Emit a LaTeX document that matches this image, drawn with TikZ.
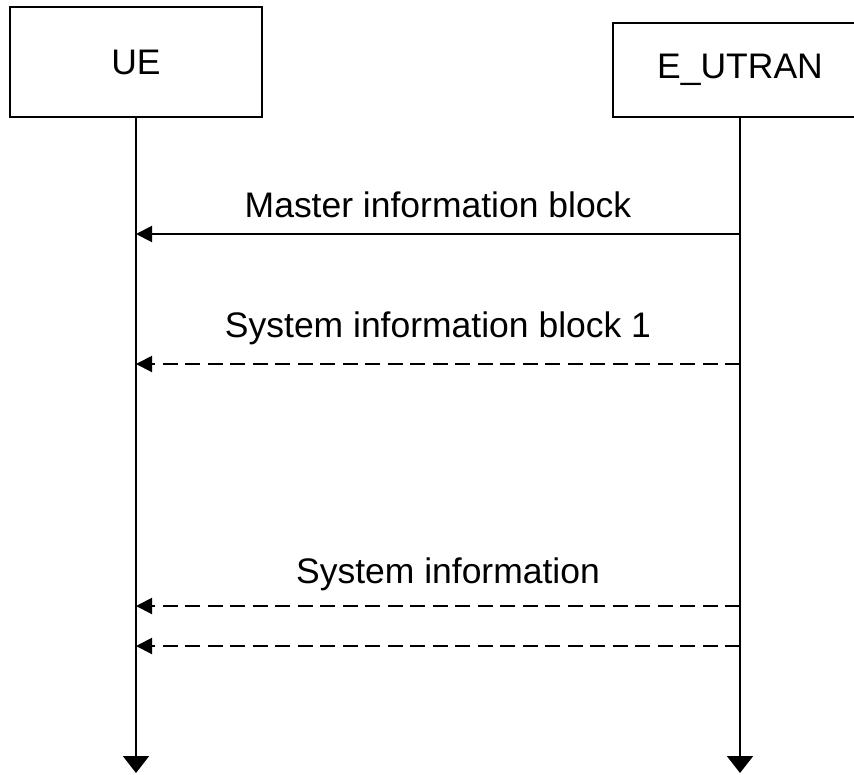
\documentclass[tikz,border=0pt]{standalone}
\usepackage{fontspec}
\setmainfont{Liberation Sans}
\usepackage{tikz}
\usetikzlibrary{
  arrows.meta,
  calc,
}
\tikzstyle{msg} = [
  -{Triangle[length=0.32cm, width=0.32cm]},
  line width=0.04cm,
]
\tikzstyle{lifeline} = [
  -{Triangle[length=0.34cm, width=0.52cm]},
  line width=0.04cm,
]

\begin{document}
\begin{tikzpicture}[x=0.02cm, y=-0.02cm,
                    box/.style={draw, line width=0.04cm, inner sep=0pt,
                                font=\fontsize{20.2}{24}\selectfont},
                    msgtext/.style={anchor=base, inner sep=0pt,
                                    font=\fontsize{20.2}{24}\selectfont},
                    dashedmsg/.style={msg, dash pattern=on 0.3cm off 0.15cm}]
    \useasboundingbox (0,0) rectangle (854,774);
    \node [box, minimum width=5.04cm, minimum height=2.2cm]
          (ue) at (136,62) {UE};
    \node [box, minimum width=5.08cm, minimum height=1.88cm]
          (enb) at (740,70) {E\_UTRAN};
    \coordinate (ue-end) at (ue.south |- 0,773);
    \coordinate (enb-end) at (enb.south |- 0,773);
    \draw [lifeline] (ue) -- (ue-end);
    \draw [lifeline] (enb) -- (enb-end);
    \foreach \name/\y in {mib/234, sib/364, si/606, sirep/646} {
      \coordinate (ue-\name) at (ue.south |- 0,\y);
      \coordinate (enb-\name) at (enb.south |- 0,\y);
    }
    \draw [msg] (enb-mib) -- (ue-mib);
    \draw [dashedmsg] (enb-sib) -- (ue-sib);
    \draw [dashedmsg] (enb-si) -- (ue-si);
    \draw [dashedmsg] (enb-sirep) -- (ue-sirep);
    \node [msgtext] (mib-text) at (438,217) {Master information block};
    \node [msgtext] (sib-text) at (438,337) {System information block 1};
    \node [msgtext] (si-text) at (448,583) {System information};
  \end{tikzpicture}
\end{document}
